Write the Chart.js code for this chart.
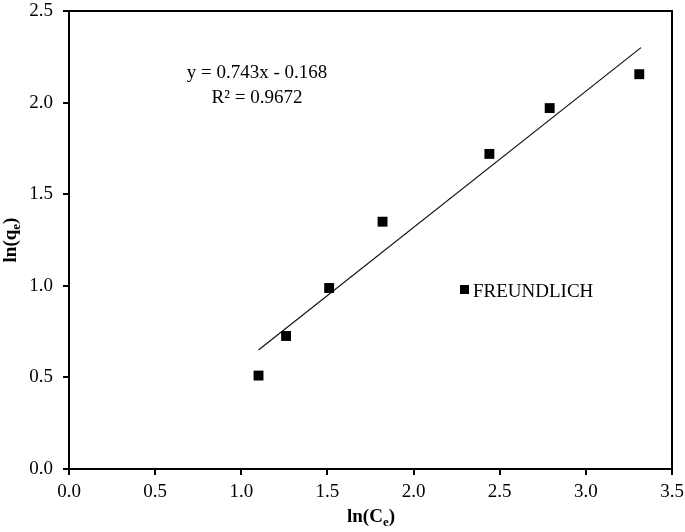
<!DOCTYPE html>
<html>
<head>
<meta charset="utf-8">
<script src="https://cdn.jsdelivr.net/npm/chart.js@4/dist/chart.umd.min.js"></script>
<style>
    html, body { margin: 0; padding: 0; background: #fff; }
    #wrap { width: 685px; height: 532px; }
</style>
</head>
<body>
<div id="wrap"><canvas id="chart" width="685" height="532"></canvas></div>
<script>
// Data
const lnCe = [1.10, 1.26, 1.51, 1.82, 2.44, 2.79, 3.31];
const lnQe = [0.51, 0.726, 0.988, 1.35, 1.72, 1.97, 2.155];
const trendX = [1.10, 3.32];
const trendY = [0.65, 2.30];
const xTicks = [0, 0.5, 1, 1.5, 2, 2.5, 3, 3.5];
const yTicks = [0, 0.5, 1, 1.5, 2, 2.5];
const seriesName = 'FREUNDLICH';
const equationText = 'y = 0.743x - 0.168';
const r2Text = 'R² = 0.9672';

const FONT = '"Liberation Serif", "Times New Roman", serif';

// Box border, axis titles with subscripts, equation and legend
const decorPlugin = {
    id: 'decor',
    afterDraw(chart) {
        const ctx = chart.ctx;
        const a = chart.chartArea;
        ctx.save();
        ctx.strokeStyle = '#000';
        ctx.lineWidth = 2;
        ctx.beginPath();
        ctx.moveTo(a.left, a.top);
        ctx.lineTo(a.right, a.top);
        ctx.lineTo(a.right, a.bottom);
        ctx.stroke();

        ctx.fillStyle = '#000';

        // equation
        ctx.font = '19px ' + FONT;
        ctx.textAlign = 'center';
        ctx.textBaseline = 'alphabetic';
        ctx.fillText(equationText, 257, 78);
        ctx.fillText(r2Text, 257, 103);

        // legend
        ctx.fillRect(460, 285, 9, 9);
        ctx.textAlign = 'left';
        ctx.fillText(seriesName, 473, 297);

        // axis titles with subscript e
        drawSub(ctx, 'ln(C', 'e', ')', 371, 522, 0);
        drawSub(ctx, 'ln(q', 'e', ')', 240, 16, -Math.PI / 2);
        ctx.restore();
    }
};

function drawSub(ctx, pre, sub, post, cx, base, rot) {
    const big = 'bold 19px ' + FONT;
    const small = 'bold 13px ' + FONT;
    ctx.font = big;
    const w1 = ctx.measureText(pre).width;
    const w3 = ctx.measureText(post).width;
    ctx.font = small;
    const w2 = ctx.measureText(sub).width;
    const total = w1 + w2 + w3;
    ctx.save();
    if (rot) {
        ctx.translate(base, cx);
        ctx.rotate(rot);
    } else {
        ctx.translate(cx, base);
    }
    ctx.textAlign = 'left';
    ctx.textBaseline = 'alphabetic';
    let x = -total / 2;
    ctx.font = big;
    ctx.fillText(pre, x, 0);
    x += w1;
    ctx.font = small;
    ctx.fillText(sub, x, 4);
    x += w2;
    ctx.font = big;
    ctx.fillText(post, x, 0);
    ctx.restore();
}

const ctx = document.getElementById('chart');
new Chart(ctx, {
    type: 'scatter',
    data: {
        datasets: [
            {
                label: seriesName,
                data: lnCe.map((x, i) => ({ x: x, y: lnQe[i] })),
                pointStyle: 'rect',
                pointRadius: 7,
                backgroundColor: '#000',
                borderColor: '#000',
                borderWidth: 0
            },
            {
                label: 'trend',
                type: 'line',
                data: trendX.map((x, i) => ({ x: x, y: trendY[i] })),
                borderColor: '#111',
                borderWidth: 1.2,
                pointRadius: 0,
                fill: false
            }
        ]
    },
    options: {
        responsive: false,
        animation: false,
        devicePixelRatio: 1,
        layout: { padding: { top: 11, right: 13, left: 0, bottom: 0 } },
        plugins: {
            legend: { display: false },
            tooltip: { enabled: false }
        },
        scales: {
            x: {
                type: 'linear',
                min: 0,
                max: 3.5,
                afterFit(scale) {
                    scale.height = 63;
                    scale.paddingLeft = 0;
                    scale.paddingRight = 0;
                },
                afterBuildTicks(scale) { scale.ticks = xTicks.map(v => ({ value: v })); },
                ticks: {
                    color: '#000',
                    padding: 6,
                    font: { family: FONT, size: 19 },
                    callback: v => v.toFixed(1)
                },
                grid: { drawOnChartArea: false, drawTicks: true, tickLength: 6, color: '#000', lineWidth: 2 },
                border: { color: '#000', width: 2 }
            },
            y: {
                type: 'linear',
                min: 0,
                max: 2.5,
                afterFit(scale) {
                    scale.width = 69;
                    scale.paddingTop = 0;
                    scale.paddingBottom = 0;
                },
                afterBuildTicks(scale) { scale.ticks = yTicks.map(v => ({ value: v })); },
                ticks: {
                    color: '#000',
                    padding: 10,
                    font: { family: FONT, size: 19 },
                    callback: v => v.toFixed(1)
                },
                grid: { drawOnChartArea: false, drawTicks: true, tickLength: 6, color: '#000', lineWidth: 2 },
                border: { color: '#000', width: 2 }
            }
        }
    },
    plugins: [decorPlugin]
});
</script>
</body>
</html>
